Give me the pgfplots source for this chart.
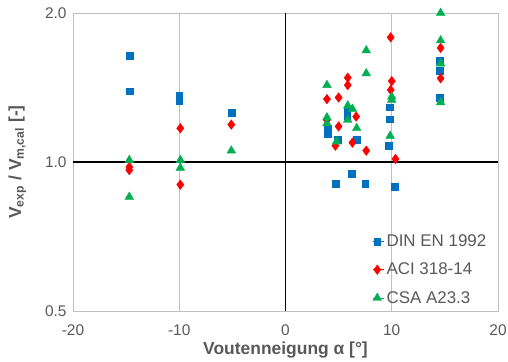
\documentclass[border=0pt]{standalone}
\usepackage{fontspec}
\setmainfont{Liberation Sans}
\usepackage{pgfplots}
\pgfplotsset{compat=1.18}
\definecolor{din}{HTML}{0070C0}
\definecolor{aci}{HTML}{FF0000}
\definecolor{csa}{HTML}{00B050}
\definecolor{txt}{HTML}{595959}
\definecolor{grd}{HTML}{BFBFBF}
\begin{document}
\begin{tikzpicture}
\useasboundingbox (-73bp,-51bp) rectangle (435bp,311bp);
\begin{axis}[
  scale only axis,
  width=425bp, height=298bp,
  at={(0,0)}, anchor=south west,
  xmin=-20, xmax=20,
  ymode=log, ymin=0.5, ymax=2,
  xtick={-20,-10,0,10,20},
  xticklabels={-20,-10,0,10,20},
  ytick={0.5,1,2},
  yticklabels={0.5,1.0,2.0},
  major tick length=0pt,
  xmajorgrids, major grid style={grd, line width=0.8pt},
  axis line style={grd, line width=0.8pt},
  tick label style={txt, font=\fontsize{15.5}{17}\selectfont},
  /pgf/number format/assume math mode=true,
  xticklabel style={yshift=-10bp},
  yticklabel style={xshift=-3bp},
  xlabel={\textbf{Voutenneigung α [°]}},
  ylabel={\textbf{V\textsubscript{exp} / V\textsubscript{m,cal} [-]}},
  label style={txt, font=\fontsize{17.5}{19}\selectfont},
  xlabel style={yshift=0bp},
  ylabel style={yshift=12bp},
  legend style={draw=none, fill=none, at={(rel axis cs:0.705,0.27)}, anchor=north west,
    font=\fontsize{17}{19}\selectfont, text=txt, row sep=11bp,
    legend cell align=left, inner xsep=0pt},
  legend image code/.code={\path (0cm,0cm) -- (0.4cm,0cm); \draw[#1] plot coordinates {(0.15cm,0cm)};},
]
\draw[black, line width=1.2pt] (axis cs:0,0.5) -- (axis cs:0,2);
\draw[black, line width=1.2pt] (axis cs:-20,1) -- (axis cs:20,1);
\addplot[only marks, mark=square*, mark size=3.4bp, din, mark options={draw=din, fill=din}] coordinates {
(-14.7,1.64) (-14.7,1.39) (-10,1.36) (-10,1.33) (-5.1,1.26)
(3.95,1.17) (3.95,1.14) (5.8,1.27) (5.8,1.24) (4.9,1.11) (6.7,1.11)
(9.8,1.29) (9.8,1.22) (9.7,1.077) (4.7,0.903) (6.2,0.946) (7.5,0.903) (10.25,0.89)
(14.5,1.60) (14.5,1.53) (14.5,1.35)
};
\addlegendentry{DIN EN 1992}
\addplot[only marks, mark=diamond*, mark size=4.8bp, aci, mark options={draw=aci, fill=aci}] coordinates {
(-14.7,0.977) (-14.7,0.963) (-9.9,1.17) (-9.9,0.90) (-5.1,1.19)
(9.9,1.786) (14.6,1.70) (14.6,1.476) (5.86,1.48) (5.86,1.43)
(3.9,1.34) (5.0,1.35) (6.65,1.235) (3.9,1.216) (5.0,1.18)
(4.7,1.079) (6.3,1.094) (7.6,1.054) (10.0,1.457) (9.9,1.398) (10.35,1.014)
};
\addlegendentry{ACI 318-14}
\addplot[only marks, mark=triangle*, mark size=5bp, csa, mark options={draw=csa, fill=csa}] coordinates {
(-14.7,1.009) (-14.7,0.85) (-9.9,1.009) (-9.9,0.973) (-5.1,1.054)
(14.6,2.0) (14.6,1.76) (14.6,1.58) (14.6,1.32)
(7.6,1.68) (7.6,1.51) (3.9,1.43) (3.9,1.23) (3.9,1.197)
(5.86,1.30) (6.3,1.28) (5.86,1.216) (6.7,1.17) (4.8,1.099)
(10.0,1.355) (10.0,1.335) (9.85,1.129)
};
\addlegendentry{CSA A23.3}
\end{axis}
\end{tikzpicture}
\end{document}
